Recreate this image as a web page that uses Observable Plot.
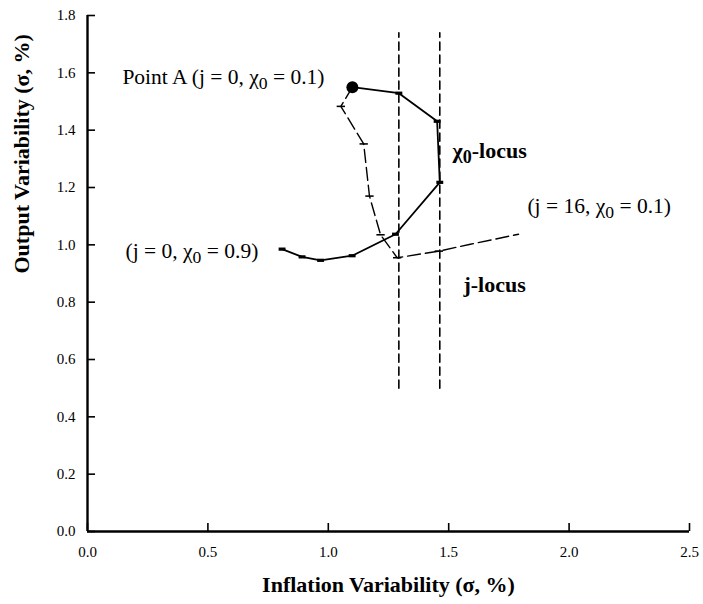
<!DOCTYPE html>
<html>
<head>
<meta charset="utf-8">
<script src="https://cdn.jsdelivr.net/npm/d3@7"></script>
<script src="https://cdn.jsdelivr.net/npm/@observablehq/plot@0.6"></script>
<style>
  html, body { margin: 0; padding: 0; background: #fff; }
  #chart svg { display: block; }
</style>
</head>
<body>
<div id="chart"></div>
<script>
// χ0-locus (solid): from Point A (χ0 = 0.1) to χ0 = 0.9, j = 0
const chiX = [1.10, 1.293, 1.452, 1.463, 1.279, 1.099, 0.968, 0.891, 0.808];
const chiY = [1.550, 1.529, 1.431, 1.218, 1.037, 0.962, 0.946, 0.958, 0.985];
// j-locus (dashed): from Point A (j = 0) to j = 16, χ0 = 0.1
const jX = [1.10, 1.052, 1.147, 1.171, 1.217, 1.286, 1.459, 1.59, 1.79];
const jY = [1.55, 1.483, 1.352, 1.17, 1.035, 0.955, 0.978, 1.002, 1.037];
// vertical dashed reference lines
const refX = [1.293, 1.463];
const refY = [0.5, 1.74];
// ticks
const xTicks = [0, 0.5, 1.0, 1.5, 2.0, 2.5];
const yTicks = [0, 0.2, 0.4, 0.6, 0.8, 1.0, 1.2, 1.4, 1.6, 1.8];
// annotations
const noteText = ["Point A (j = 0, χ0 = 0.1)", "(j = 0, χ0 = 0.9)", "(j = 16, χ0 = 0.1)"];
const noteX = [0.145, 0.158, 1.827];
const noteY = [1.584, 0.979, 1.136];
const boldText = ["χ0-locus", "j-locus"];
const boldX = [1.516, 1.561];
const boldY = [1.329, 0.860];
const xTitle = "Inflation Variability (σ, %)";
const yTitle = "Output Variability (σ, %)";

const chi = chiX.map((x, i) => ({x, y: chiY[i]}));
const jl = jX.map((x, i) => ({x, y: jY[i]}));
const refs = refX.flatMap((x, k) => refY.map(y => ({x, y, k})));
const notes = noteText.map((t, i) => ({t, x: noteX[i], y: noteY[i]}));
const bolds = boldText.map((t, i) => ({t, x: boldX[i], y: boldY[i]}));

const barSym = {draw(ctx, size) { const s = Math.sqrt(size / Math.PI); ctx.rect(-s * 1.5, -s * 0.7, s * 3, s * 1.4); }};
const thinSym = {draw(ctx, size) { const s = Math.sqrt(size / Math.PI); ctx.rect(-s * 1.6, -s * 0.3, s * 3.2, s * 0.6); }};

const serif = "'Liberation Serif', 'Times New Roman', serif";
const fmt = d3.format(".1f");

const plot = Plot.plot({
  width: 703,
  height: 604,
  marginLeft: 87,
  marginRight: 14,
  marginTop: 15,
  marginBottom: 73,
  style: {fontFamily: serif, fontSize: "15px", color: "#000", background: "#fff"},
  x: {domain: [0, 2.5], axis: null},
  y: {domain: [0, 1.8], axis: null},
  marks: [
    Plot.ruleX([0], {stroke: "#000", strokeWidth: 2.4}),
    Plot.ruleY([0], {stroke: "#000", strokeWidth: 2.4}),
    Plot.axisY(yTicks, {anchor: "left", label: null, tickSize: -8, tickFormat: () => "", stroke: "#000", strokeWidth: 1.6}),
    Plot.axisY(yTicks, {anchor: "left", label: null, tickSize: 0, tickPadding: 12, tickFormat: fmt, fill: "#000", fontSize: 15}),
    Plot.axisX(xTicks, {anchor: "bottom", label: null, tickSize: -8, tickFormat: () => "", stroke: "#000", strokeWidth: 1.6}),
    Plot.axisX(xTicks, {anchor: "bottom", label: null, tickSize: 0, tickPadding: 15, tickFormat: fmt, fill: "#000", fontSize: 15}),
    Plot.line(refs, {x: "x", y: "y", z: "k", stroke: "#000", strokeWidth: 1.6, strokeDasharray: "8,5"}),
    Plot.line(jl, {x: "x", y: "y", stroke: "#000", strokeWidth: 1.4, strokeDasharray: "13,5"}),
    Plot.dot(jl.slice(1, 7), {x: "x", y: "y", symbol: thinSym, r: 2.6, fill: "#000", stroke: null}),
    Plot.line(chi, {x: "x", y: "y", stroke: "#000", strokeWidth: 1.8}),
    Plot.dot(chi.slice(1), {x: "x", y: "y", symbol: barSym, r: 2.3, fill: "#000", stroke: null}),
    Plot.dot(chi.slice(0, 1), {x: "x", y: "y", r: 6, fill: "#000", stroke: null}),
    Plot.text(notes, {x: "x", y: "y", text: "t", textAnchor: "start", fontSize: 21.5, fill: "#000"}),
    Plot.text(bolds, {x: "x", y: "y", text: "t", textAnchor: "start", fontSize: 22, fontWeight: "bold", fill: "#000"}),
    Plot.text([xTitle], {frameAnchor: "bottom", dy: 60, fontSize: 22, fontWeight: "bold", fill: "#000"}),
    Plot.text([yTitle], {frameAnchor: "left", dx: -66, rotate: -90, fontSize: 22, fontWeight: "bold", fill: "#000"})
  ]
});

// render "χ0" with a lowered subscript 0
const NS = "http://www.w3.org/2000/svg";
plot.querySelectorAll("text").forEach(t => {
  const s = t.textContent;
  if (!s.includes("χ0")) return;
  const i = s.indexOf("χ0");
  while (t.firstChild) t.removeChild(t.firstChild);
  const a = document.createElementNS(NS, "tspan"); a.textContent = s.slice(0, i + 1);
  const b = document.createElementNS(NS, "tspan"); b.textContent = "0"; b.setAttribute("dy", "5"); b.setAttribute("font-size", "0.82em");
  const c = document.createElementNS(NS, "tspan"); c.textContent = s.slice(i + 2); c.setAttribute("dy", "-5");
  t.append(a, b, c);
});

document.getElementById("chart").append(plot);
</script>
</body>
</html>
